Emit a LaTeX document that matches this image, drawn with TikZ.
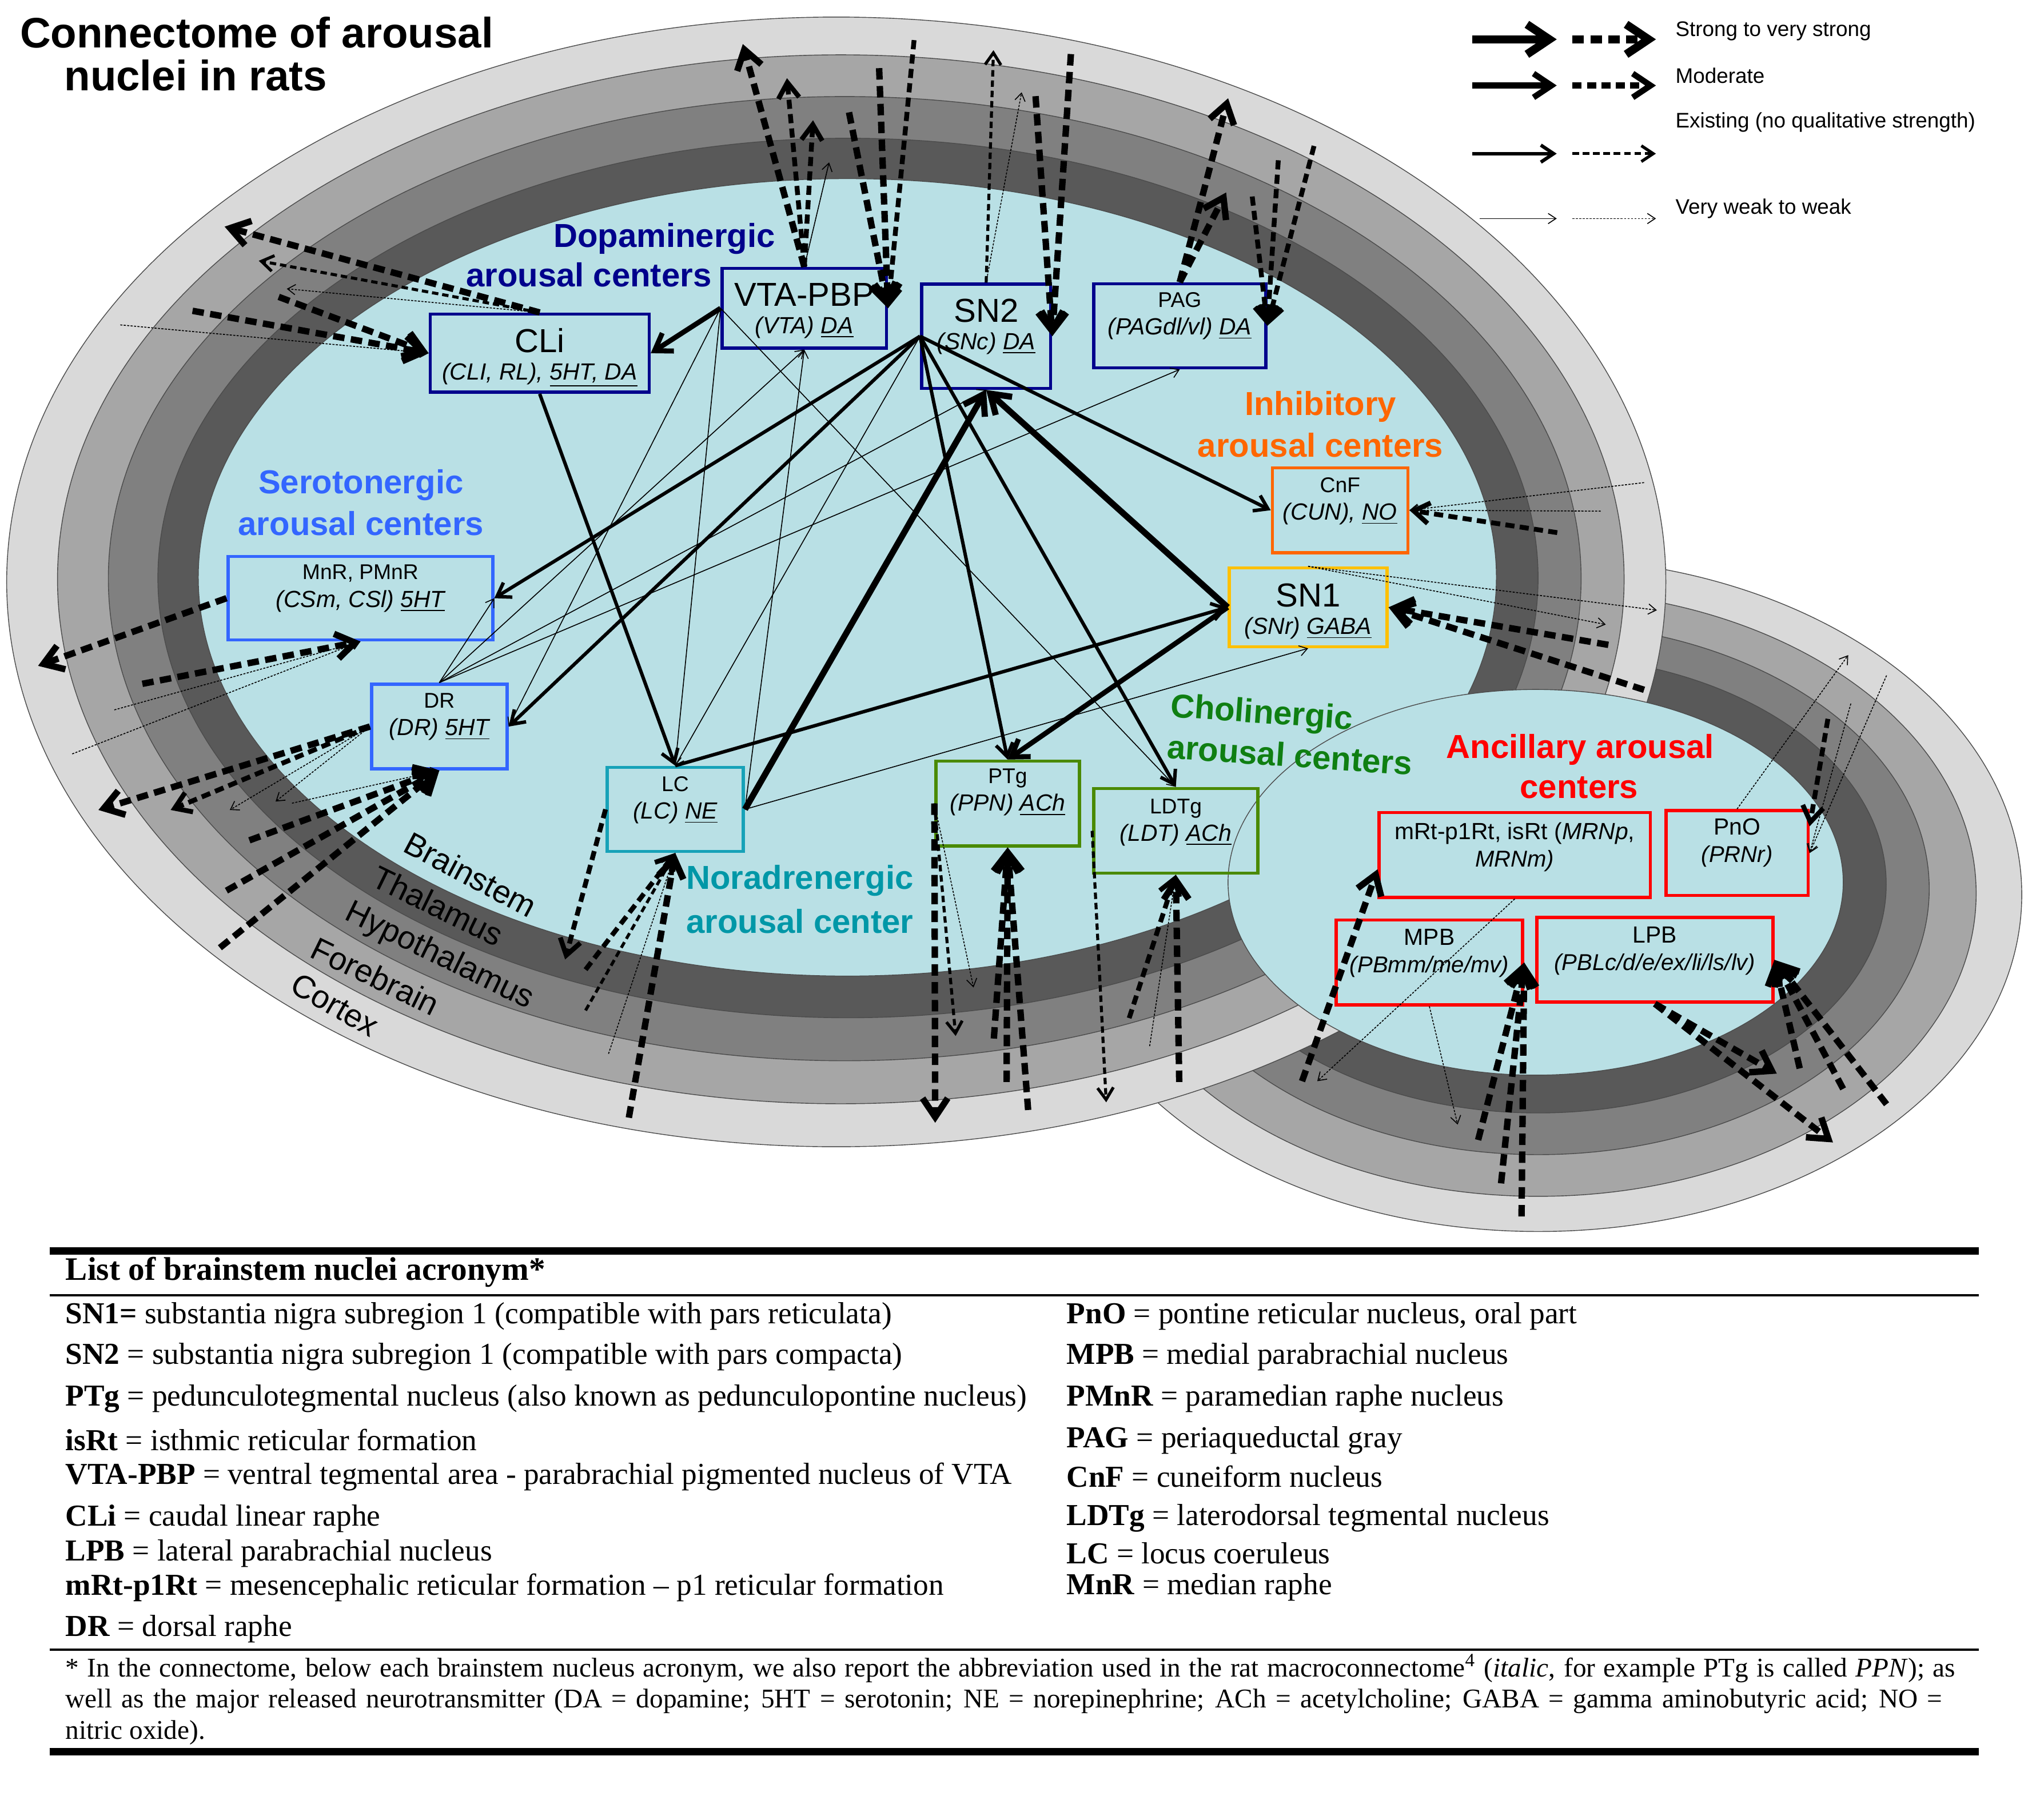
\documentclass[tikz,border=0pt]{standalone}
\usepackage{fontspec}
\setmainfont{Liberation Sans}
\newfontfamily\tabfont{Liberation Serif}
\usetikzlibrary{arrows.meta,positioning,calc}
\definecolor{cortexgray}{HTML}{D9D9D9}
\definecolor{forebraingray}{HTML}{A6A6A6}
\definecolor{hypogray}{HTML}{808080}
\definecolor{thalgray}{HTML}{595959}
\definecolor{stemblue}{HTML}{B9E0E5}
\definecolor{dopanavy}{HTML}{00008C}
\definecolor{serblue}{HTML}{3366FF}
\definecolor{inhorange}{HTML}{FF6600}
\definecolor{gabagold}{HTML}{FFC000}
\definecolor{neteal}{HTML}{17A2B8}
\definecolor{netealtxt}{HTML}{0097A7}
\definecolor{achgreen}{HTML}{4A8A00}
\definecolor{achgreentxt}{HTML}{0F7F12}
\definecolor{ancred}{HTML}{FF0000}
\newcommand\nucbig{\fontsize{14.5pt}{14.5pt}\selectfont}
\newcommand\nucsub{\fontsize{10.2pt}{11.5pt}\selectfont}
\newcommand\nucsmall{\fontsize{9.3pt}{11pt}\selectfont}

\begin{document}
\begin{tikzpicture}[x=0.02cm, y=-0.02cm,
    >={Straight Barb[length=2.6pt 2, width=3.4pt 2.7]},
    ring/.style={draw=black!70, line width=0.35pt},
    nuc/.style={draw, line width=1.4pt, inner sep=0pt},
    nuctxt/.style={align=center, inner sep=0pt},
    grp/.style={font=\fontsize{14.5pt}{16pt}\selectfont\bfseries},
    layer/.style={font=\fontsize{14pt}{16pt}\selectfont, inner sep=0pt},
    solS/.style={->, line width=2.7pt},
    solM/.style={->, line width=2.2pt},
    solE/.style={->, line width=1.5pt},
    solW/.style={->, line width=0.4pt},
    dashS/.style={->, line width=2.8pt, dash pattern=on 5pt off 2.8pt},
    dashM/.style={->, line width=2.1pt, dash pattern=on 4pt off 2.3pt},
    dashE/.style={->, line width=1.3pt, dash pattern=on 2.8pt off 1.7pt},
    dotW/.style={->, line width=0.4pt, dash pattern=on 0.9pt off 0.6pt},
    legtxt/.style={anchor=west, font=\fontsize{9.2pt}{11pt}\selectfont, inner sep=0pt},
    entry/.style={anchor=west, font=\tabfont\fontsize{13.3pt}{15pt}\selectfont, inner sep=0pt},
]
\useasboundingbox (0,0) rectangle (1568,1378);

% ---- Rings: small (ancillary) ellipse behind, big ellipse, small core on top ----
\foreach \cx/\cy/\rx/\ry/\col in {1180/686.5/7.42/5.17/cortexgray, 1180/685.5/6.72/4.65/forebraingray,
    1180/682/6.0/4.08/hypogray, 1180/678.5/5.34/3.51/thalgray}
  \filldraw[ring, fill=\col] (\cx,\cy) ellipse [x radius=\rx cm, y radius=\ry cm];
\foreach \cx/\cy/\rx/\ry/\col in {641.5/446.5/12.73/8.67/cortexgray, 645/444.5/12.02/8.05/forebraingray,
    648/444/11.30/7.40/hypogray, 650.5/443.5/10.59/6.75/thalgray, 650/443/9.96/6.12/stemblue}
  \filldraw[ring, fill=\col] (\cx,\cy) ellipse [x radius=\rx cm, y radius=\ry cm];
\filldraw[ring, fill=stemblue] (1178,677) ellipse [x radius=4.72cm, y radius=2.96cm];

% ---- Layer names ----
\node[layer, rotate=-28] (lbstem) at (361,671) {Brainstem};
\node[layer, rotate=-26] (lbthal) at (336,695) {Thalamus};
\node[layer, rotate=-26] (lbhypo) at (337,734) {Hypothalamus};
\node[layer, rotate=-26] (lbfore) at (288,749) {Forebrain};
\node[layer, rotate=-30] (lbcort) at (257,771) {Cortex};

% ---- Title ----
\node[anchor=west, inner sep=0pt, font=\fontsize{18.6pt}{20pt}\selectfont\bfseries] (title1) at (15,25) {Connectome of arousal};
\node[anchor=west, inner sep=0pt, font=\fontsize{18.6pt}{20pt}\selectfont\bfseries] (title2) at (49,58) {nuclei in rats};

% ---- Group labels ----
\node[grp, text=dopanavy] (gdopa1) at (509.6,183.1) {Dopaminergic};
\node[grp, text=dopanavy] (gdopa2) at (451.7,210.8) {arousal centers};
\node[grp, text=serblue] (gsero1) at (276.9,372.4) {Serotonergic};
\node[grp, text=serblue] (gsero2) at (276.9,401.6) {arousal centers};
\node[grp, text=inhorange] (ginh1) at (1013,312.1) {Inhibitory};
\node[grp, text=inhorange] (ginh2) at (1013,341.5) {arousal centers};
\node[grp, text=achgreentxt, rotate=-4] (gach1) at (967.8,548.4) {Cholinergic};
\node[grp, text=achgreentxt, rotate=-4] (gach2) at (989.4,579.2) {arousal centers};
\node[grp, text=netealtxt] (gne1) at (613.6,675.5) {Noradrenergic};
\node[grp, text=netealtxt] (gne2) at (613.6,706.8) {arousal center};
\node[grp, text=ancred] (ganc1) at (1212.2,575.1) {Ancillary arousal};
\node[grp, text=ancred] (ganc2) at (1211.4,604.5) {centers};

% ---- Nuclei ----
\node[nuc, draw=dopanavy, minimum width=3.36cm, minimum height=1.2cm,
  label={[nuctxt, yshift=-0.07cm]center:{\nucbig CLi\\\nucsub\textit{(CLI, RL), \underline{5HT, DA}}}}] (cli) at (414,271) {};
\node[nuc, draw=dopanavy, minimum width=2.52cm, minimum height=1.22cm,
  label={[nuctxt, yshift=-0.04cm]center:{\nucbig VTA-PBP\\\nucsub\textit{(VTA) \underline{DA}}}}] (vta) at (617,236.5) {};
\node[nuc, draw=dopanavy, minimum width=1.98cm, minimum height=1.6cm,
  label={[nuctxt, yshift=0.15cm]center:{\nucbig SN2\\\nucsub\textit{(SNc) \underline{DA}}}}] (sn2) at (756.5,258) {};
\node[nuc, draw=dopanavy, minimum width=2.64cm, minimum height=1.29cm,
  label={[nuctxt, yshift=0.15cm]center:{\nucsmall PAG\\\nucsub\textit{(PAGdl/vl) \underline{DA}}}}] (pag) at (905,250) {};
\node[nuc, draw=inhorange, minimum width=2.08cm, minimum height=1.3cm,
  label={[nuctxt, yshift=0.14cm]center:{\nucsmall CnF\\\nucsub\textit{(CUN), \underline{NO}}}}] (cnf) at (1028,391.5) {};
\node[nuc, draw=gabagold, minimum width=2.42cm, minimum height=1.21cm,
  label={[nuctxt, yshift=-0.06cm]center:{\nucbig SN1\\\nucsub\textit{(SNr) \underline{GABA}}}}] (sn1) at (1003.5,466) {};
\node[nuc, draw=serblue, minimum width=4.06cm, minimum height=1.28cm,
  label={[nuctxt, yshift=0.15cm]center:{\nucsmall MnR, PMnR\\\nucsub\textit{(CSm, CSl) \underline{5HT}}}}] (mnr) at (276.5,459) {};
\node[nuc, draw=serblue, minimum width=2.08cm, minimum height=1.3cm,
  label={[nuctxt, yshift=0.15cm]center:{\nucsmall DR\\\nucsub\textit{(DR) \underline{5HT}}}}] (dr) at (337,557.5) {};
\node[nuc, draw=neteal, minimum width=2.09cm, minimum height=1.29cm,
  label={[nuctxt, yshift=0.14cm]center:{\nucsmall LC\\\nucsub\textit{(LC) \underline{NE}}}}] (lc) at (518,621) {};
\node[nuc, draw=achgreen, minimum width=2.2cm, minimum height=1.3cm,
  label={[nuctxt, yshift=0.17cm]center:{\nucsmall PTg\\\nucsub\textit{(PPN) \underline{ACh}}}}] (ptg) at (773,616.5) {};
\node[nuc, draw=achgreen, minimum width=2.52cm, minimum height=1.3cm,
  label={[nuctxt, yshift=0.13cm]center:{\nucsmall LDTg\\\nucsub\textit{(LDT) \underline{ACh}}}}] (ldtg) at (902,637.5) {};
\node[nuc, draw=ancred, minimum width=4.16cm, minimum height=1.3cm,
  label={[nuctxt, yshift=0.12cm]center:{\nucsub mRt-p1Rt, isRt (\textit{MRNp},\\\textit{MRNm)}}}] (mrt) at (1162,656) {};
\node[nuc, draw=ancred, minimum width=2.18cm, minimum height=1.3cm,
  label={[nuctxt, yshift=0.16cm]center:{\nucsub PnO\\\textit{(PRNr)}}}] (pno) at (1332.5,654.5) {};
\node[nuc, draw=ancred, minimum width=2.86cm, minimum height=1.3cm,
  label={[nuctxt, yshift=0.14cm]center:{\nucsub MPB\\\textit{(PBmm/me/mv)}}}] (mpb) at (1096.5,738.5) {};
\node[nuc, draw=ancred, minimum width=3.62cm, minimum height=1.3cm,
  label={[nuctxt, yshift=0.14cm]center:{\nucsub LPB\\\textit{(PBLc/d/e/ex/li/ls/lv)}}}] (lpb) at (1269.5,736.5) {};

% ---- Free ends outside the brainstem ----
\coordinate (vo1) at (569.8,33.8);  \coordinate (vo2) at (603.7,60);   \coordinate (vo3) at (623.7,92.3);
\coordinate (vo4) at (636,124.6);   \coordinate (vi1) at (651.3,86.2); \coordinate (vi2) at (674.4,52.3);
\coordinate (vi3) at (701.2,30.8);
\coordinate (so1) at (762.1,38.5);  \coordinate (so2) at (783.7,70.8); \coordinate (si1) at (794.4,73.8);
\coordinate (si2) at (821.5,41.5);
\coordinate (po1) at (942.1,75.4);  \coordinate (po2) at (940.6,147.7); \coordinate (pi1) at (960.6,150.8);
\coordinate (pi2) at (980.6,123);   \coordinate (pi3) at (1008,112);
\coordinate (co1) at (172.3,173.9); \coordinate (co2) at (198.5,200.1); \coordinate (co3) at (220,221.6);
\coordinate (ci1) at (147.7,238.5); \coordinate (ci2) at (213.8,227.8); \coordinate (ci3) at (92.3,249.3);
\coordinate (ni1) at (1194.6,408.7); \coordinate (ni2) at (1261.2,370.3); \coordinate (ni3) at (1227.9,392.2);
\coordinate (to1) at (1271,468.2);  \coordinate (to2) at (1231.8,479.2);
\coordinate (ti1) at (1233.8,494.8); \coordinate (ti2) at (1261.2,529.3);
\coordinate (mo1) at (29.2,510.9);  \coordinate (mi1) at (109.2,524.7); \coordinate (mi2) at (87.7,544.7);
\coordinate (mi3) at (55.4,578.5);
\coordinate (do1) at (75.5,621.5);  \coordinate (do2) at (130.9,621.5); \coordinate (do3) at (176.3,621.5);
\coordinate (do4) at (211.4,615);   \coordinate (di1) at (191.3,644.8); \coordinate (di2) at (173.7,683.4);
\coordinate (di3) at (168.7,727.2); \coordinate (di4) at (224,616.3);
\coordinate (lo1) at (433.5,736.2); \coordinate (li1) at (449.2,744);   \coordinate (li2) at (449.2,775.3);
\coordinate (li3) at (466.8,808.6); \coordinate (li4) at (482.4,857.6);
\coordinate (go1) at (717.4,861.5); \coordinate (go2) at (733.1,794.9); \coordinate (go3) at (746.8,757.7);
\coordinate (gi1) at (762.4,796.9); \coordinate (gi2) at (772.2,830.2); \coordinate (gi3) at (788.7,851.7);
\coordinate (ko1) at (848.6,845.8); \coordinate (ki1) at (866.2,781.2); \coordinate (ki2) at (881.9,802.7);
\coordinate (ki3) at (904.6,830.2);
\coordinate (ri1) at (998.8,829.6); \coordinate (ro1) at (1010.5,829.6);
\coordinate (bo1) at (1118.2,862.9); \coordinate (bi1) at (1133.9,874.7); \coordinate (bi2) at (1151.5,908);
\coordinate (bi3) at (1167.2,933.4);
\coordinate (qo1) at (1417.8,502.7); \coordinate (qi1) at (1402.2,551.6); \coordinate (qi2) at (1419.8,539.9);
\coordinate (qi3) at (1447.2,518.3);
\coordinate (ao1) at (1363,823.8);  \coordinate (ao2) at (1406.1,876.6); \coordinate (ai1) at (1380.6,819.8);
\coordinate (ai2) at (1413.9,835.5); \coordinate (ai3) at (1447.2,847.3);

% ---- Connections inside the brainstem ----
\draw[solM] (vta.west) -- (cli.east);
\draw[solW] (vta.west) -- (lc.north);
\draw[solW] (vta.west) -- (dr.east);
\draw[solW] (vta.west) -- (ldtg.north);
\draw[solW] (dr.north) -- (mnr.east);
\draw[solW] (dr.north) -- (vta.south);
\draw[solW] (dr.north) -- (sn2.south);
\draw[solW] (dr.north) -- (pag.south);
\draw[solW] (lc.east) -- (vta.south);
\draw[solE] (sn2.west) -- (mnr.east);
\draw[solE] (sn2.west) -- (dr.east);
\draw[solW] (sn2.west) -- (lc.north);
\draw[solE] (sn2.west) -- (ptg.north);
\draw[solE] (sn2.west) -- (ldtg.north);
\draw[solE] (sn2.west) -- (cnf.west);
\draw[solS] (lc.east) -- (sn2.south);
\draw[solS] (sn1.west) -- (sn2.south);
\draw[solE] (lc.north) -- (sn1.west);
\draw[solW] (lc.east) -- (sn1.south);
\draw[solM] (sn1.west) -- (ptg.north);
\draw[solE] (cli.south) -- (lc.north);

% ---- Projections to and from the outer layers ----
\draw[dashS] (vta.north) -- (vo1);
\draw[dashM] (vta.north) -- (vo2);
\draw[dashM] (vta.north) -- (vo3);
\draw[solW] (vta.north) -- (vo4);
\draw[dashS] (vi1) -- (vta.east);
\draw[dashS] (vi2) -- (vta.east);
\draw[dashM] (vi3) -- (vta.east);
\draw[dashE] (sn2.north) -- (so1);
\draw[dotW] (sn2.north) -- (so2);
\draw[dashS] (si1) -- (sn2.east);
\draw[dashS] (si2) -- (sn2.east);
\draw[dashS] (pag.north) -- (po1);
\draw[dashS] (pag.north) -- (po2);
\draw[dashM] (pi1) -- (pag.east);
\draw[dashM] (pi2) -- (pag.east);
\draw[dashM] (pi3) -- (pag.east);
\draw[dashS] (cli.north) -- (co1);
\draw[dashE] (cli.north) -- (co2);
\draw[dotW] (cli.north) -- (co3);
\draw[dashS] (ci1) -- (cli.west);
\draw[dashS] (ci2) -- (cli.west);
\draw[dotW] (ci3) -- (cli.west);
\draw[dashM] (ni1) -- (cnf.east);
\draw[dotW] (ni2) -- (cnf.east);
\draw[dotW] (ni3) -- (cnf.east);
\draw[dotW] (sn1.north) -- (to1);
\draw[dotW] (sn1.north) -- (to2);
\draw[dashS] (ti1) -- (sn1.east);
\draw[dashS] (ti2) -- (sn1.east);
\draw[dashS] (mnr.west) -- (mo1);
\draw[dashS] (mi1) -- (mnr.south);
\draw[dotW] (mi2) -- (mnr.south);
\draw[dotW] (mi3) -- (mnr.south);
\draw[dashS] (dr.west) -- (do1);
\draw[dashM] (dr.west) -- (do2);
\draw[dotW] (dr.west) -- (do3);
\draw[dotW] (dr.west) -- (do4);
\draw[dashS] (di1) -- (dr.south);
\draw[dashS] (di2) -- (dr.south);
\draw[dashS] (di3) -- (dr.south);
\draw[dotW] (di4) -- (dr.south);
\draw[dashM] (lc.west) -- (lo1);
\draw[dashM] (li1) -- (lc.south);
\draw[dashE] (li2) -- (lc.south);
\draw[dotW] (li3) -- (lc.south);
\draw[dashS] (li4) -- (lc.south);
\draw[dashS] (ptg.west) -- (go1);
\draw[dashE] (ptg.west) -- (go2);
\draw[dotW] (ptg.west) -- (go3);
\draw[dashS] (gi1) -- (ptg.south);
\draw[dashS] (gi2) -- (ptg.south);
\draw[dashS] (gi3) -- (ptg.south);
\draw[dashE] (ldtg.west) -- (ko1);
\draw[dashM] (ki1) -- (ldtg.south);
\draw[dotW] (ki2) -- (ldtg.south);
\draw[dashS] (ki3) -- (ldtg.south);
\draw[dashS] (ri1) -- ([yshift=-0.22cm]mrt.west);
\draw[dotW] (mrt.south) -- (ro1);
\draw[dotW] (mpb.south) -- (bo1);
\draw[dashS] (bi1) -- (mpb.east);
\draw[dashS] (bi2) -- (mpb.east);
\draw[dashS] (bi3) -- (mpb.east);
\draw[dotW] (pno.north) -- (qo1);
\draw[dashM] (qi1) -- ([yshift=0.41cm]pno.east);
\draw[dotW] (qi2) -- (pno.east);
\draw[dotW] (qi3) -- (pno.east);
\draw[dashS] (lpb.south) -- (ao1);
\draw[dashS] (lpb.south) -- (ao2);
\draw[dashS] (ai1) -- (lpb.east);
\draw[dashS] (ai2) -- (lpb.east);
\draw[dashS] (ai3) -- (lpb.east);

% ---- Legend ----
\coordinate (lgSa) at (1129.6,30.2);  \coordinate (lgSb) at (1194.2,30.2);
\coordinate (lgSc) at (1206.3,30.2);  \coordinate (lgSd) at (1270.3,30.2);
\coordinate (lgMa) at (1129.6,65.6);  \coordinate (lgMb) at (1194.2,65.6);
\coordinate (lgMc) at (1206.3,65.6);  \coordinate (lgMd) at (1270.3,65.6);
\coordinate (lgEa) at (1129.6,117.9); \coordinate (lgEb) at (1194.2,117.9);
\coordinate (lgEc) at (1206.3,117.9); \coordinate (lgEd) at (1270.3,117.9);
\coordinate (lgWa) at (1134.9,167.7); \coordinate (lgWb) at (1194.2,167.7);
\coordinate (lgWc) at (1206.3,167.7); \coordinate (lgWd) at (1270.3,167.7);
\draw[solS, line width=3.6pt] (lgSa) -- (lgSb);
\draw[dashS, line width=3.6pt] (lgSc) -- (lgSd);
\draw[solM, line width=2.6pt] (lgMa) -- (lgMb);
\draw[dashM, line width=2.6pt] (lgMc) -- (lgMd);
\draw[solE] (lgEa) -- (lgEb);
\draw[dashE] (lgEc) -- (lgEd);
\draw[solW] (lgWa) -- (lgWb);
\draw[dotW] (lgWc) -- (lgWd);
\node[legtxt] (lgtS) at (1285,24) {Strong to very strong};
\node[legtxt] (lgtM) at (1285,57.9) {Moderate};
\node[legtxt] (lgtE) at (1285,93.9) {Existing (no qualitative strength)};
\node[legtxt] (lgtW) at (1285,160) {Very weak to weak};

% ---- Acronym table ----
\draw[line width=3.2pt] (38,960) -- (1518,960);
\draw[line width=1pt] (38,994) -- (1518,994);
\draw[line width=1pt] (38,1266) -- (1518,1266);
\draw[line width=3.2pt] (38,1344) -- (1518,1344);
\node[entry, font=\tabfont\bfseries\fontsize{14.3pt}{15pt}\selectfont] (thead) at (50,976) {List of brainstem nuclei acronym*};
\node[entry] (tsn1)  at (50,1010) {\textbf{SN1=} substantia nigra subregion 1 (compatible with pars reticulata)};
\node[entry] (tsn2)  at (50,1041) {\textbf{SN2} = substantia nigra subregion 1 (compatible with pars compacta)};
\node[entry] (tptg)  at (50,1073) {\textbf{PTg} = pedunculotegmental nucleus (also known as pedunculopontine nucleus)};
\node[entry] (tisrt) at (50,1105) {\textbf{isRt} = isthmic reticular formation};
\node[entry] (tvta)  at (50,1133) {\textbf{VTA-PBP} = ventral tegmental area - parabrachial pigmented nucleus of VTA};
\node[entry] (tcli)  at (50,1165) {\textbf{CLi} = caudal linear raphe};
\node[entry] (tlpb)  at (50,1192) {\textbf{LPB} = lateral parabrachial nucleus};
\node[entry] (tmrt)  at (50,1218) {\textbf{mRt-p1Rt} = mesencephalic reticular formation – p1 reticular formation};
\node[entry] (tdr)   at (50,1250) {\textbf{DR} = dorsal raphe};
\node[entry] (tpno)  at (818,1010) {\textbf{PnO} = pontine reticular nucleus, oral part};
\node[entry] (tmpb)  at (818,1041) {\textbf{MPB} = medial parabrachial nucleus};
\node[entry] (tpmnr) at (818,1073) {\textbf{PMnR} = paramedian raphe nucleus};
\node[entry] (tpag)  at (818,1105) {\textbf{PAG} = periaqueductal gray};
\node[entry] (tcnf)  at (818,1133) {\textbf{CnF} = cuneiform nucleus};
\node[entry] (tldtg) at (818,1165) {\textbf{LDTg} = laterodorsal tegmental nucleus};
\node[entry] (tlc)   at (818,1192) {\textbf{LC} = locus coeruleus};
\node[entry] (tmnr)  at (818,1218) {\textbf{MnR} = median raphe};
\node[entry, align=left, font=\tabfont\fontsize{11.8pt}{13.6pt}\selectfont] (tnote) at (50,1304)
  {\makebox[29cm][s]{* In the connectome, below each brainstem nucleus acronym, we also report the abbreviation used in the rat macroconnectome\textsuperscript{4} (\textit{italic}, for example PTg is called \textit{PPN}); as}\\
   \makebox[28.8cm][s]{well as the major released neurotransmitter (DA = dopamine; 5HT = serotonin; NE = norepinephrine; ACh = acetylcholine; GABA = gamma aminobutyric acid; NO =}\\
   nitric oxide).};
\end{tikzpicture}
\end{document}
